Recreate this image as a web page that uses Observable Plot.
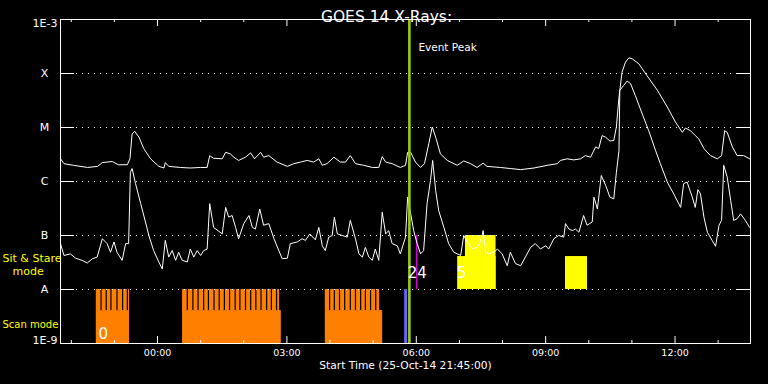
<!DOCTYPE html>
<html><head><meta charset="utf-8">
<script src="https://cdn.jsdelivr.net/npm/d3@7"></script>
<script src="https://cdn.jsdelivr.net/npm/@observablehq/plot@0.6"></script>
<style>
html,body{margin:0;padding:0;background:#000;}
#chart svg{display:block;}
</style></head><body><div id="chart"></div>
<script>
// ---- data ----
const START = "2014-10-25T21:45:00Z";
const SPAN_HOURS = 16;
const titleText = "GOES 14 X-Rays:";
const xTitle = "Start Time (25-Oct-14 21:45:00)";

// GOES long channel (1-8 A): [hours since start, log10 flux W/m^2]
const longChannel = [[0,-5.58],[0.08,-5.67],[0.30,-5.70],[0.63,-5.74],[0.86,-5.72],[0.97,-5.65],[1.20,-5.63],[1.34,-5.69],[1.55,-5.69],[1.61,-5.58],[1.66,-5.12],[1.72,-5.07],[1.82,-5.18],[1.93,-5.39],[2.09,-5.58],[2.28,-5.72],[2.40,-5.75],[2.43,-5.65],[2.51,-5.72],[2.78,-5.74],[3.01,-5.75],[3.25,-5.74],[3.40,-5.74],[3.46,-5.52],[3.55,-5.57],[3.75,-5.58],[3.83,-5.46],[3.94,-5.49],[4.02,-5.55],[4.13,-5.61],[4.29,-5.55],[4.41,-5.47],[4.50,-5.58],[4.64,-5.46],[4.71,-5.55],[4.83,-5.52],[5.02,-5.64],[5.26,-5.72],[5.41,-5.67],[5.57,-5.64],[5.72,-5.61],[5.87,-5.64],[5.99,-5.58],[6.07,-5.70],[6.18,-5.67],[6.34,-5.55],[6.49,-5.64],[6.61,-5.64],[6.72,-5.52],[6.84,-5.67],[7.03,-5.70],[7.23,-5.74],[7.38,-5.74],[7.46,-5.54],[7.54,-5.64],[7.69,-5.67],[7.88,-5.74],[8.00,-5.70],[8.05,-5.46],[8.12,-5.46],[8.23,-5.64],[8.35,-5.74],[8.44,-5.67],[8.54,-5.30],[8.62,-4.99],[8.70,-5.18],[8.81,-5.49],[8.97,-5.61],[9.20,-5.70],[9.35,-5.62],[9.51,-5.67],[9.66,-5.74],[9.80,-5.66],[9.89,-5.72],[10.20,-5.74],[10.43,-5.76],[10.67,-5.78],[10.98,-5.75],[11.29,-5.70],[11.52,-5.67],[11.59,-5.61],[11.75,-5.58],[11.90,-5.60],[12.06,-5.58],[12.17,-5.52],[12.29,-5.55],[12.41,-5.36],[12.48,-5.39],[12.56,-5.15],[12.64,-5.18],[12.74,-5.25],[12.83,-5.24],[12.89,-4.99],[12.95,-4.44],[13.02,-3.98],[13.10,-3.79],[13.18,-3.71],[13.26,-3.73],[13.41,-3.82],[13.60,-4.04],[13.84,-4.31],[14.07,-4.62],[14.26,-4.90],[14.42,-5.09],[14.49,-5.01],[14.61,-5.06],[14.72,-5.15],[14.80,-5.21],[14.92,-5.39],[15.07,-5.52],[15.23,-5.58],[15.33,-5.52],[15.40,-5.06],[15.46,-5.09],[15.58,-5.36],[15.69,-5.52],[15.84,-5.52],[15.98,-5.58]];

// GOES short channel (0.5-4 A): [hours since start, log10 flux W/m^2]
const shortChannel = [[0,-7.15],[0.08,-7.37],[0.23,-7.34],[0.35,-7.42],[0.50,-7.46],[0.62,-7.51],[0.74,-7.43],[0.85,-7.40],[0.97,-7.06],[1.08,-7.15],[1.16,-7.31],[1.24,-7.12],[1.31,-7.31],[1.43,-7.46],[1.51,-7.15],[1.58,-7.15],[1.62,-5.83],[1.66,-5.76],[1.74,-6.04],[1.86,-6.41],[1.97,-6.75],[2.05,-7.00],[2.16,-7.28],[2.28,-7.49],[2.36,-7.62],[2.43,-7.09],[2.51,-7.40],[2.59,-7.28],[2.67,-7.46],[2.74,-7.31],[2.82,-7.46],[2.94,-7.49],[3.01,-7.25],[3.09,-7.40],[3.17,-7.28],[3.25,-7.37],[3.32,-7.28],[3.40,-7.25],[3.46,-6.41],[3.55,-6.85],[3.75,-6.97],[3.83,-6.48],[3.90,-6.66],[3.98,-6.63],[4.06,-6.85],[4.13,-7.06],[4.25,-6.78],[4.37,-6.63],[4.45,-6.85],[4.52,-6.88],[4.62,-6.51],[4.71,-6.81],[4.83,-6.78],[4.95,-7.06],[5.14,-7.43],[5.26,-7.42],[5.33,-7.15],[5.49,-7.12],[5.60,-7.06],[5.68,-7.09],[5.78,-6.97],[5.91,-7.08],[5.99,-6.85],[6.07,-7.19],[6.14,-7.28],[6.22,-7.03],[6.30,-7.00],[6.35,-6.66],[6.42,-6.97],[6.53,-7.00],[6.65,-7.03],[6.72,-6.72],[6.84,-7.06],[6.92,-7.34],[7.00,-7.40],[7.07,-7.22],[7.15,-7.40],[7.23,-7.46],[7.30,-7.25],[7.38,-7.46],[7.46,-6.57],[7.54,-6.97],[7.61,-6.91],[7.69,-7.15],[7.81,-7.19],[7.88,-7.34],[8.00,-7.03],[8.05,-6.29],[8.12,-6.60],[8.19,-6.91],[8.27,-7.15],[8.35,-7.34],[8.42,-7.28],[8.50,-6.41],[8.58,-5.98],[8.63,-5.61],[8.70,-6.17],[8.77,-6.54],[8.89,-6.85],[9.00,-7.15],[9.12,-7.31],[9.28,-7.37],[9.35,-7.00],[9.43,-7.12],[9.55,-7.25],[9.66,-7.22],[9.74,-7.12],[9.80,-6.91],[9.86,-7.31],[9.93,-7.34],[10.05,-7.31],[10.13,-7.25],[10.24,-7.34],[10.36,-7.56],[10.43,-7.31],[10.55,-7.52],[10.67,-7.56],[10.78,-7.40],[10.90,-7.22],[11.01,-7.15],[11.13,-7.25],[11.25,-7.19],[11.32,-7.25],[11.44,-7.06],[11.55,-7.00],[11.67,-7.03],[11.71,-6.78],[11.79,-6.88],[11.87,-6.91],[11.94,-6.88],[12.02,-6.94],[12.13,-6.63],[12.21,-6.81],[12.33,-6.75],[12.37,-6.29],[12.45,-6.51],[12.54,-5.89],[12.64,-6.07],[12.74,-6.29],[12.83,-6.32],[12.89,-5.83],[12.95,-5.43],[12.97,-4.31],[13.06,-4.22],[13.14,-4.14],[13.22,-4.19],[13.33,-4.41],[13.49,-4.75],[13.64,-5.06],[13.80,-5.43],[13.91,-5.67],[14.07,-6.01],[14.22,-6.23],[14.38,-6.48],[14.45,-6.04],[14.53,-6.01],[14.65,-6.29],[14.72,-6.48],[14.78,-6.15],[14.84,-6.23],[14.92,-6.66],[15.00,-6.94],[15.11,-7.09],[15.19,-7.20],[15.27,-6.81],[15.33,-6.72],[15.38,-5.70],[15.46,-5.92],[15.54,-6.35],[15.61,-6.72],[15.69,-6.69],[15.77,-6.60],[15.88,-6.72],[15.98,-6.85]];

// Y levels (GOES classes)
const yLevels = [1e-8, 1e-7, 1e-6, 1e-5, 1e-4];
const yLevelLabels = ["A", "B", "C", "M", "X"];
const yEnds = [1e-3, 1e-9];
const yEndLabels = ["1E-3", "1E-9"];

// Scan mode rasters: [start h, end h, comb end h]
const scanBlocks = [[0.83, 1.60, 1.60], [2.83, 5.12, 5.08], [6.14, 7.47, 7.40]];
const scanGaps = [0.94,1.06,1.17,1.31,1.44,1.55,
  2.94,3.07,3.19,3.32,3.43,3.56,3.68,3.80,3.92,4.05,4.16,4.29,4.41,4.53,4.65,4.78,4.89,5.01,
  6.24,6.35,6.47,6.59,6.72,6.84,6.96,7.07,7.19,7.31];
const scanLow = 1e-9, scanMid = 10 ** -8.39, scanTop = 1e-8;

// Sit & stare: [start h, end h, top log10]
const sitStare = [[9.21, 10.10, -7.39], [9.39, 10.10, -7.0], [11.71, 12.22, -7.39]];

const eventPeakHour = 8.09;
const blueBar = [7.98, 8.05];
const magentaHour = 8.26;
const obsLabels = ["0", "24", "5"];
const obsLabelHours = [0.88, 8.05, 9.19];
const obsLabelLog = [-8.82, -7.69, -7.69];

// ---- helpers ----
const t0 = new Date(START);
const T = h => new Date(+t0 + h * 3600e3);
const longData = longChannel.map(([h, l]) => ({t: T(h), f: 10 ** l}));
const shortData = shortChannel.map(([h, l]) => ({t: T(h), f: 10 ** l}));
const hours = d3.utcHour.range(T(0), T(SPAN_HOURS));
const majorHours = hours.filter(d => d.getUTCHours() % 3 === 0);
const minorHours = hours.filter(d => d.getUTCHours() % 3 !== 0);

const W = 768, H = 384, ML = 60, MR = 18, MT = 19, MB = 41;
const FW = W - ML - MR, FH = H - MT - MB;
const font = "'DejaVu Sans', sans-serif";

const svg = Plot.plot({
  width: W, height: H,
  marginLeft: ML, marginRight: MR, marginTop: MT, marginBottom: MB,
  style: {background: "#000", color: "#fff", fontFamily: font, fontSize: "10px", overflow: "visible"},
  x: {type: "utc", domain: [T(0), T(SPAN_HOURS)], axis: null},
  y: {type: "log", domain: [1e-9, 1e-3], axis: null},
  marks: [
    // scan mode blocks
    Plot.rect(scanBlocks, {x1: d => T(d[0]), x2: d => T(d[1]), y1: scanLow, y2: scanMid, fill: "#ff8000"}),
    Plot.rect(scanBlocks, {x1: d => T(d[0]), x2: d => T(d[2]), y1: scanMid, y2: scanTop, fill: "#ff8000"}),
    Plot.ruleX(scanGaps, {x: d => T(d), y1: scanMid, y2: scanTop, stroke: "#000", strokeWidth: 1.2}),
    // sit & stare
    Plot.rect(sitStare, {x1: d => T(d[0]), x2: d => T(d[1]), y1: scanTop, y2: d => 10 ** d[2], fill: "#ffff00"}),
    // dotted grid
    Plot.ruleY(yLevels, {y: d => d, stroke: "#fff", strokeDasharray: "1,5", insetLeft: 16, insetRight: 14}),
    // solid ticks left/right
    Plot.ruleY(yLevels, {y: d => d, stroke: "#fff", insetRight: FW - 14}),
    Plot.ruleY(yLevels, {y: d => d, stroke: "#fff", insetLeft: FW - 14}),
    // x ticks bottom/top
    Plot.ruleX(minorHours, {x: d => d, stroke: "#fff", insetTop: FH - 3}),
    Plot.ruleX(majorHours, {x: d => d, stroke: "#fff", insetTop: FH - 7}),
    Plot.ruleX(minorHours, {x: d => d, stroke: "#fff", insetBottom: FH - 3}),
    Plot.ruleX(majorHours, {x: d => d, stroke: "#fff", insetBottom: FH - 7}),
    // blue and magenta markers
    Plot.rect([blueBar], {x1: d => T(d[0]), x2: d => T(d[1]), y1: scanLow, y2: scanTop, fill: "#6464ff"}),
    Plot.ruleX([magentaHour], {x: d => T(d), y1: scanTop, y2: 1e-7, stroke: "#d000d0", strokeWidth: 1.5}),
    // light curves
    Plot.line(longData, {x: "t", y: "f", stroke: "#fff", strokeWidth: 1}),
    Plot.line(shortData, {x: "t", y: "f", stroke: "#fff", strokeWidth: 1}),
    // event peak
    Plot.ruleX([eventPeakHour], {x: d => T(d), stroke: "#99cc11", strokeWidth: 2.6}),
    Plot.text(["Event Peak"], {x: T(eventPeakHour), frameAnchor: "top", text: d => d, textAnchor: "start", dx: 9, dy: 24, fill: "#fff", fontSize: 10.5}),
    // observation labels
    Plot.text(obsLabels, {x: (d, i) => T(obsLabelHours[i]), y: (d, i) => 10 ** obsLabelLog[i], text: d => d, textAnchor: "start", fill: "#fff", fontSize: 15}),
    // frame
    Plot.frame({stroke: "#fff"}),
    // y labels
    Plot.text(yLevels, {y: d => d, text: (d, i) => yLevelLabels[i], frameAnchor: "left", dx: -16, textAnchor: "middle", fill: "#fff", fontSize: 11}),
    Plot.text([yEnds[0]], {y: d => d, text: [yEndLabels[0]], frameAnchor: "left", dx: -3, textAnchor: "end", lineAnchor: "top", fill: "#fff", fontSize: 11}),
    Plot.text([yEnds[1]], {y: d => d, text: [yEndLabels[1]], frameAnchor: "left", dx: -3, textAnchor: "end", lineAnchor: "bottom", fill: "#fff", fontSize: 11}),
    // mode labels
    Plot.text(["Sit & Stare"], {y: 10 ** -7.43, text: d => d, frameAnchor: "left", dx: -58, textAnchor: "start", fill: "#ffff00", fontSize: 11}),
    Plot.text(["mode"], {y: 10 ** -7.67, text: d => d, frameAnchor: "left", dx: -48, textAnchor: "start", fill: "#ffff00", fontSize: 11}),
    Plot.text(["Scan mode"], {y: 10 ** -8.65, text: d => d, frameAnchor: "left", dx: -58, textAnchor: "start", fill: "#ffff00", fontSize: 10}),
    // x tick labels
    Plot.text(majorHours, {x: d => d, text: d => d3.utcFormat("%H:%M")(d), frameAnchor: "bottom", dy: 12, fill: "#fff", fontSize: 9.5}),
    // titles
    Plot.text([xTitle], {frameAnchor: "bottom", text: d => d, dy: 25, fill: "#fff", fontSize: 10.7}),
    Plot.text([titleText], {frameAnchor: "top", text: d => d, dx: -19, dy: -9, fill: "#fff", fontSize: 15.5})
  ]
});
document.getElementById("chart").appendChild(svg);
</script>
</body></html>
